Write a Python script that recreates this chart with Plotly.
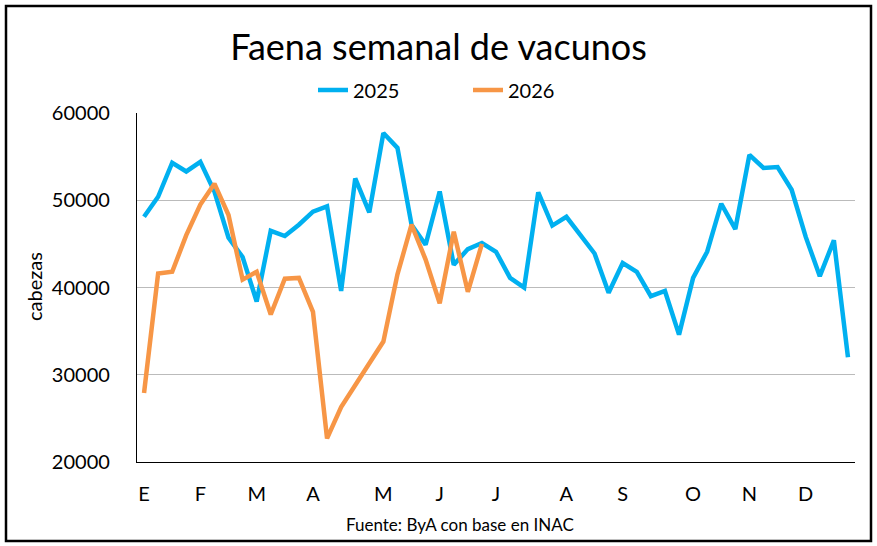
import plotly.graph_objects as go

weeks = list(range(51))
vals_2025 = [48100, 50400, 54300, 53300, 54400, 51000, 45700, 43500, 38400, 46500,
             45900, 47200, 48700, 49300, 39600, 52500, 48600, 57700, 56000, 47200,
             44900, 51000, 42600, 44400, 45100, 44100, 41100, 40000, 50900, 47100,
             48100, 46000, 43900, 39400, 42800, 41800, 39000, 39600, 34600, 41100,
             44100, 49600, 46700, 55200, 53700, 53800, 51200, 45800, 41300, 45400,
             32000]
vals_2026 = [27900, 41600, 41800, 46000, 49500, 51900, 48300, 40900, 41800, 36900,
             41000, 41100, 37200, 22700, 26300, 28800, 31200, 33800, 41500, 47200,
             43200, 38200, 46400, 39500, 45000]
month_ticks = [0, 4, 8, 12, 17, 21, 25, 30, 34, 39, 43, 47]
month_labels = ["E", "F", "M", "A", "M", "J", "J", "A", "S", "O", "N", "D"]

FONT = "Lato"
fig = go.Figure()
fig.add_trace(go.Scatter(x=weeks, y=vals_2025, mode="lines", name="2025",
                         line=dict(color="#00B0F0", width=4.5)))
fig.add_trace(go.Scatter(x=weeks[:len(vals_2026)], y=vals_2026, mode="lines", name="2026",
                         line=dict(color="#F79646", width=4.5)))

L, R, T, B = 137, 855, 113, 462
W, H = 877, 546
pw, ph = R - L, B - T

def px(x):
    return (x - L) / pw

def py(y):
    return (B - y) / ph

fig.update_layout(
    width=W, height=H,
    margin=dict(l=L, r=W - R, t=T, b=H - B, pad=0),
    paper_bgcolor="white", plot_bgcolor="white",
    font=dict(family=FONT, color="#000000", size=20),
    title=dict(text="Faena semanal de vacunos", x=0.5, xanchor="center",
               y=1 - 47 / H, yanchor="middle", font=dict(size=36, family=FONT)),
    showlegend=True,
    legend=dict(orientation="h", x=px(468), xanchor="center", y=py(90), yanchor="middle",
                font=dict(size=20), entrywidth=110, bgcolor="rgba(0,0,0,0)"),
    xaxis=dict(range=[-0.5, 50.5], tickmode="array", tickvals=month_ticks,
               ticktext=month_labels, showgrid=False, zeroline=False,
               showline=True, linecolor="black", linewidth=1.3, ticks="",
               ticklabelstandoff=14, tickfont=dict(size=20)),
    yaxis=dict(range=[20000, 60000], dtick=10000, tickformat="d",
               showgrid=True, gridcolor="#BBBBBB", gridwidth=1, zeroline=False,
               showline=True, linecolor="black", linewidth=1.3, ticks="",
               ticklabelstandoff=22, tickfont=dict(size=20)),
    annotations=[
        dict(text="cabezas", textangle=-90, x=px(34), y=py(287), xref="paper", yref="paper",
             xanchor="center", yanchor="middle", showarrow=False, font=dict(size=20)),
        dict(text="Fuente: ByA con base en INAC", x=px(460), y=py(524), xref="paper",
             yref="paper", xanchor="center", yanchor="middle", showarrow=False,
             font=dict(size=17)),
    ],
    shapes=[dict(type="rect", xref="paper", yref="paper", x0=px(6), x1=px(871),
                 y0=py(541), y1=py(6), line=dict(color="black", width=2.5),
                 fillcolor="rgba(0,0,0,0)", layer="above")],
)

fig.write_html("out.html")
